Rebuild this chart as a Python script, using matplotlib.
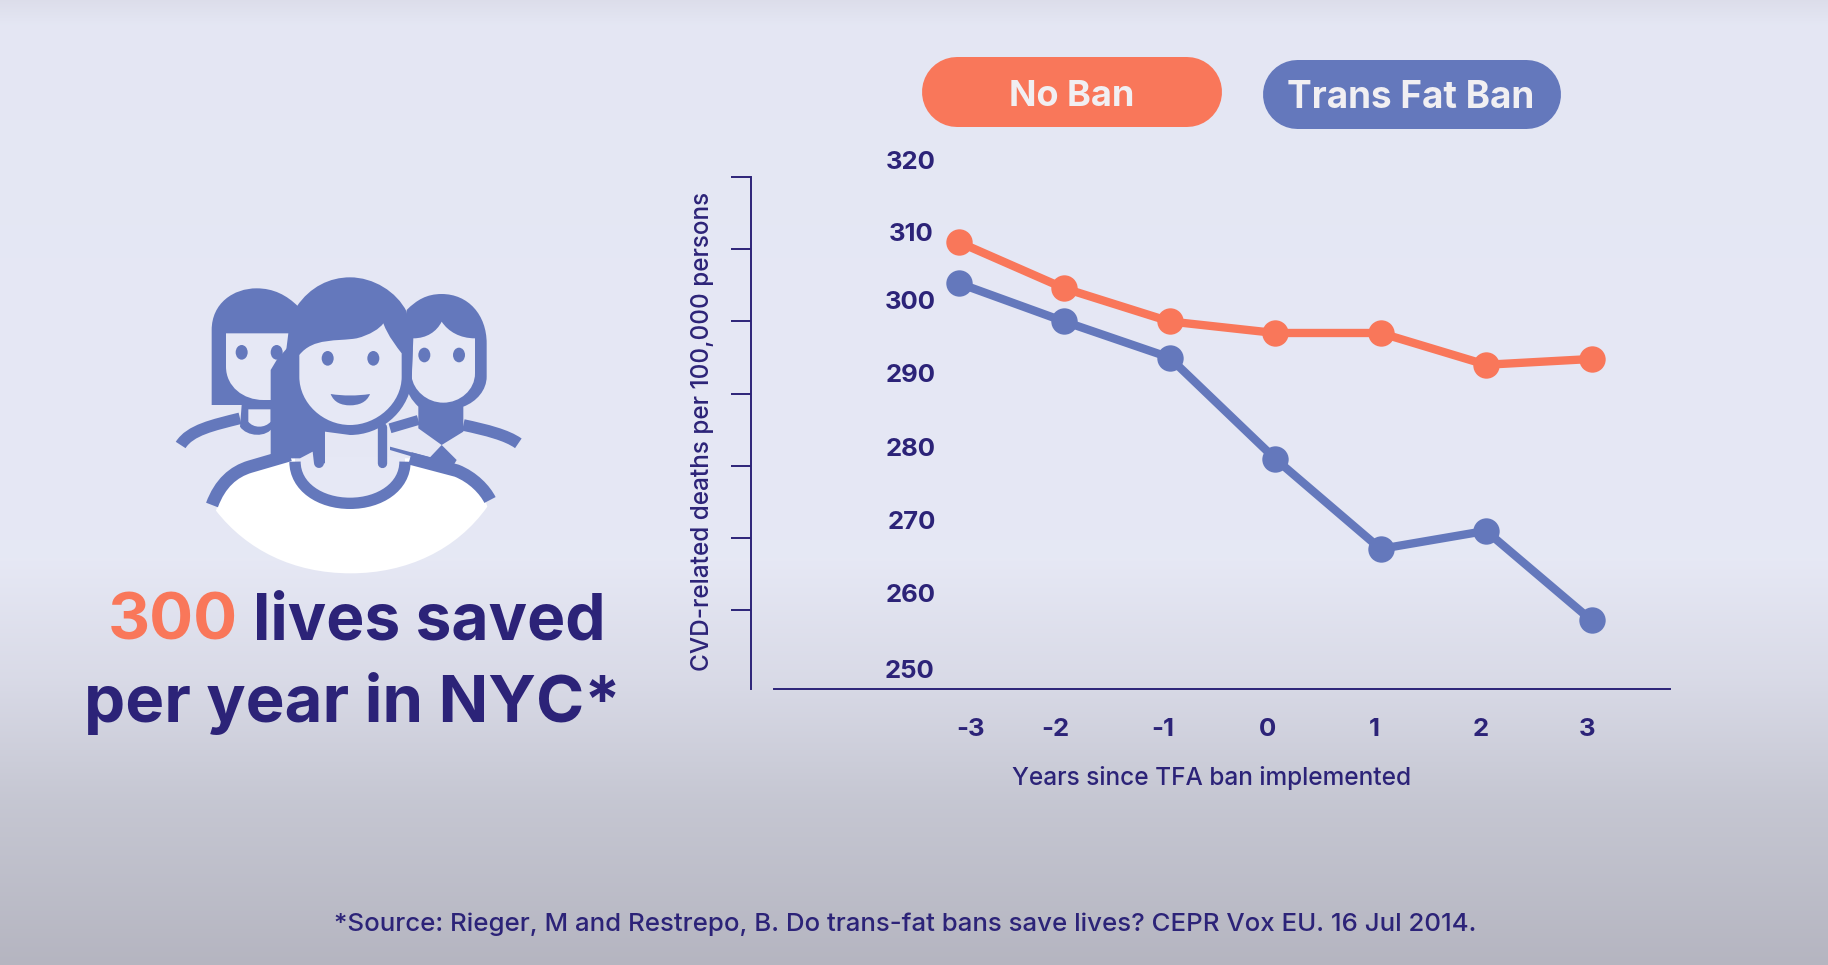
import re
import numpy as np
import matplotlib
matplotlib.use("Agg")
import matplotlib.pyplot as plt
from matplotlib.path import Path
from matplotlib.patches import PathPatch, Ellipse
from matplotlib.transforms import ScaledTranslation

# ---------- data ----------
years = [-3, -2, -1, 0, 1, 2, 3]
no_ban = [311.0, 304.6, 300.0, 298.4, 298.4, 294.0, 294.8]
tfa_ban = [305.3, 300.0, 295.0, 281.0, 268.5, 271.0, 258.6]
y_ticks = [250, 260, 270, 280, 290, 300, 310, 320]
x_title = "Years since TFA ban implemented"
y_title = "CVD-related deaths per 100,000 persons"
legend_labels = ["No Ban", "Trans Fat Ban"]
source = "*Source: Rieger, M and Restrepo, B. Do trans-fat bans save lives? CEPR Vox EU. 16 Jul 2014."

# ---------- style ----------
W, H = 1828, 965
ORANGE = "#F9775A"
BLUE = "#6478BC"
NAVY = "#2C2378"
BG = "#E6E8F5"
FONT = "Inter"
plt.rcParams["font.family"] = [FONT, "DejaVu Sans"]

fig = plt.figure(figsize=(W / 100, H / 100), dpi=100)

# background gradient
bg_ax = fig.add_axes([0, 0, 1, 1], zorder=0)
rows = np.arange(H)
stops_y = [0, 25, 560, 680, 800, 965]
stops_c = np.array([[0.865, 0.87, 0.92], [0.895, 0.905, 0.955], [0.902, 0.91, 0.96],
                    [0.85, 0.855, 0.905], [0.775, 0.78, 0.825], [0.71, 0.71, 0.755]])
grad = np.stack([np.interp(rows, stops_y, stops_c[:, i]) for i in range(3)], axis=1)[:, None, :]
bg_ax.imshow(grad, aspect="auto", extent=[0, W, H, 0])
bg_ax.axis("off")

# overlay in pixel coordinates: icon, pills, headline, source
ov = fig.add_axes([0, 0, 1, 1], zorder=1)
ov.set_xlim(0, W)
ov.set_ylim(H, 0)
ov.set_autoscale_on(False)
ov.axis("off")
ov.patch.set_alpha(0)

ICON_X, ICON_Y, ICON_S = 140, 250, 3.0


def zpath(d):
    verts, codes = [], []
    for cmd, args in re.findall(r"([MLCZ])([^MLCZ]*)", d):
        nums = [float(v) for v in re.findall(r"-?\d+\.?\d*", args)]
        pts = [(ICON_X + nums[i] / ICON_S, ICON_Y + nums[i + 1] / ICON_S) for i in range(0, len(nums), 2)]
        if cmd == "M":
            verts += pts; codes += [Path.MOVETO] + [Path.LINETO] * (len(pts) - 1)
        elif cmd == "L":
            verts += pts; codes += [Path.LINETO] * len(pts)
        elif cmd == "C":
            verts += pts; codes += [Path.CURVE4] * len(pts)
        else:
            verts.append(verts[0]); codes.append(Path.CLOSEPOLY)
    return Path(verts, codes)


def fill(d, color=BLUE):
    ov.add_patch(PathPatch(zpath(d), fc=color, ec="none", lw=0))


def stroke(d, w, color=BLUE, cap="butt"):
    ov.add_patch(PathPatch(zpath(d), fc="none", ec=color, lw=w / ICON_S * 0.72, capstyle=cap, joinstyle="round"))


def dot(x, y, rx=18, ry=22, color=BLUE):
    ov.add_patch(Ellipse((ICON_X + x / ICON_S, ICON_Y + y / ICON_S), 2 * rx / ICON_S, 2 * ry / ICON_S, fc=color, ec="none"))


# left background woman
stroke("M122,585 C150,540 220,525 300,505", 35)
fill("M215,465 L215,240 C215,160 280,115 350,115 C400,115 440,135 475,170 L470,465 Z")
fill("M258,250 L258,350 C258,410 310,450 370,450 L420,450 L445,250 Z", BG)
dot(305, 307); dot(410, 307)
fill("M305,465 L400,465 L400,530 C380,565 320,560 300,530 Z")
fill("M325,478 L392,478 L392,515 C375,535 340,535 325,515 Z", BG)

# right background woman
stroke("M970,525 C1040,540 1100,555 1135,580", 35)
stroke("M750,535 L835,510", 30)
fill("M800,180 C830,150 860,132 905,132 C985,132 1040,195 1040,280 L1040,380 C1040,420 1010,455 970,470 "
     "L970,545 L905,585 L835,535 L835,470 C815,450 800,430 800,400 Z")
fill("M820,265 C860,265 890,245 905,215 C925,245 960,265 1005,265 L1005,370 C1005,420 960,458 910,458 "
     "C860,458 820,420 815,380 Z", BG)
dot(853, 315); dot(957, 315)
fill("M750,590 L870,622 L905,585 L950,630 L935,655 L750,600 Z")

# front woman: shirt and shoulders
fill("M228,782 C250,705 285,675 335,655 L450,625 L810,625 L960,650 C1000,680 1030,730 1042,770 "
     "C950,900 800,970 632,970 C460,970 320,900 228,782 Z", "white")
stroke("M216,765 C240,700 280,665 330,650 L450,615", 38)
stroke("M810,625 L950,662 C1000,682 1035,720 1050,750", 38)
fill("M465,620 L795,620 L795,635 C795,710 720,760 630,760 C540,760 465,710 465,635 Z", BG)
stroke("M465,635 C465,710 540,760 630,760 C720,760 795,710 795,635", 34)

# front woman: hair and face
fill("M470,170 C510,110 570,82 630,82 C700,82 770,125 800,185 L818,300 L815,400 C800,490 720,555 630,555 "
     "L555,545 L555,640 L522,640 L518,605 L480,625 L392,625 L392,360 L410,330 L445,290 Z")
stroke("M538,540 L538,640", 30, cap="round")
stroke("M725,530 L725,640", 28, cap="round")
fill("M478,315 C520,262 590,275 650,265 C690,255 720,235 730,220 C745,260 770,290 785,310 L785,380 "
     "C785,460 710,525 630,525 C550,525 478,460 478,380 Z", BG)
dot(563, 325); dot(700, 325)
fill("M572,432 C610,438 650,438 690,432 C680,458 655,466 630,466 C605,466 582,458 572,432 Z")

# legend pills (stadium shapes)
for (x0, x1, y0, y1), c, lab, fs in zip([(922, 1222, 57, 127), (1262, 1560, 59, 128)], [ORANGE, BLUE],
                                        legend_labels, [26, 26.6]):
    h = y1 - y0
    ov.plot([x0 + h / 2, x1 - h / 2], [(y0 + y1) / 2] * 2, color=c, lw=h * 0.72, solid_capstyle="round")
    ov.text((x0 + x1) / 2, (y0 + y1) / 2 + 4.5, lab, color="#F1EFF2", fontsize=fs, fontweight="bold",
            ha="center", va="center")

# headline
ov.text(108, 639, "300", color=ORANGE, fontsize=47, fontweight="bold", ha="left", va="baseline")
ov.text(253, 639, "lives saved", color=NAVY, fontsize=46.2, fontweight="bold", ha="left", va="baseline")
ov.text(84, 722, "per year in NYC*", color=NAVY, fontsize=47, fontweight="bold", ha="left", va="baseline")

# source
ov.text(905, 924, source, color=NAVY, fontsize=18.6, fontweight="medium", ha="center", va="center")


# chart axes: left spine x=751, x line ends 1670, top y=177, bottom y=689
def x2ax(px):
    return (px - 751) / (1670 - 751)


ax = fig.add_axes([751 / W, 1 - 689 / H, (1670 - 751) / W, (689 - 177) / H], zorder=2)
ax.patch.set_alpha(0)
ax.set_xlim(-4.967, 3.744)
ax.set_ylim(249.1, 320)
ax.plot(years, no_ban, color=ORANGE, lw=6, marker="o", ms=19, mew=0, solid_joinstyle="round", zorder=3)
ax.plot(years, tfa_ban, color=BLUE, lw=6, marker="o", ms=19, mew=0, solid_joinstyle="round", zorder=3)

for s in ("top", "right"):
    ax.spines[s].set_visible(False)
for s in ("left", "bottom"):
    ax.spines[s].set_color(NAVY)
    ax.spines[s].set_linewidth(1.4)
ax.spines["bottom"].set_bounds(-4.967 + (774 - 751) / 105.5, 3.744)

ax.set_yticks(y_ticks)
ax.set_xticks(years)
ax.set_xticklabels([str(v) for v in years])
ax.tick_params(axis="y", length=14.4, width=1.4, color=NAVY, labelcolor=NAVY, labelsize=18.5, pad=0)
ax.tick_params(axis="x", length=0, labelcolor=NAVY, labelsize=18.5, pad=0)
for lab in ax.get_xticklabels() + ax.get_yticklabels():
    lab.set_fontweight("bold")

ax.yaxis.get_major_ticks()[0].tick1line.set_visible(False)

# the source slide places its tick labels away from the tick positions (pixels)
y_lab_dy = [14, 17, 18, 19, 21, 21, 17, 17]
y_lab_right = [934, 936, 936, 936, 936, 936, 934, 936]
for lab, dy, right in zip(ax.get_yticklabels(), y_lab_dy, y_lab_right):
    lab.set_ha("right")
    lab.set_transform(lab.get_transform() + ScaledTranslation((right - 731) / 100, dy / 100, fig.dpi_scale_trans))
x_lab_dx = [11.5, -9, -7, -8, -6.5, -5, -5]
for lab, dx in zip(ax.get_xticklabels(), x_lab_dx):
    lab.set_transform(lab.get_transform() + ScaledTranslation(dx / 100, -29 / 100, fig.dpi_scale_trans))

ax.set_xlabel(x_title, color=NAVY, fontsize=17.6, fontweight="medium")
ax.xaxis.set_label_coords(x2ax(1212), -(778 - 689) / (689 - 177), transform=ax.transAxes)
ax.xaxis.label.set_va("center")
ax.set_ylabel(y_title, color=NAVY, fontsize=17.5, fontweight="medium")
ax.yaxis.set_label_coords(x2ax(702), (689 - 431) / (689 - 177), transform=ax.transAxes)
ax.yaxis.label.set_va("center")

fig.savefig("out.png", dpi=100)
